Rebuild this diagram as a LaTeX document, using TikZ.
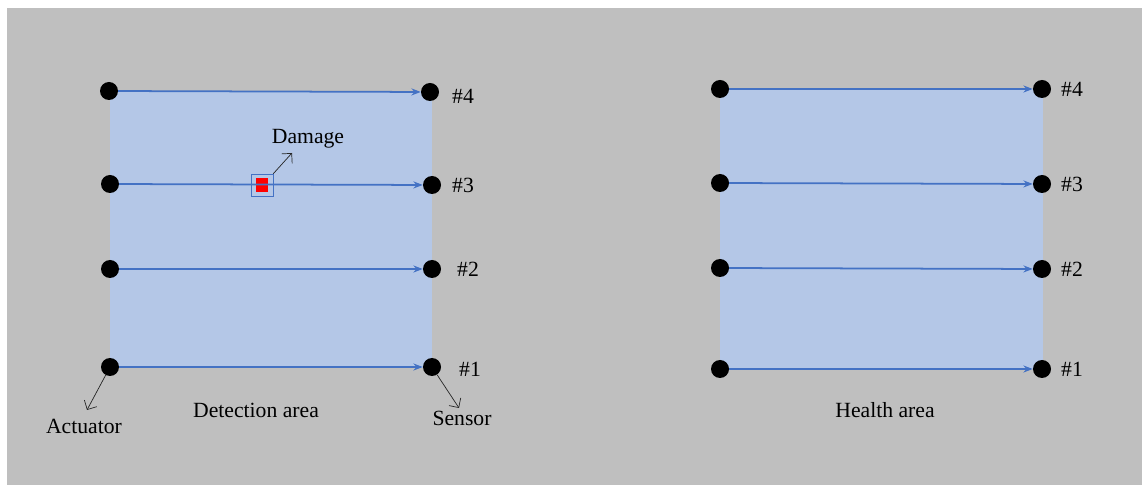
\documentclass[tikz,border=0pt]{standalone}
\usepackage{fontspec}
\setmainfont{Liberation Serif}
\usetikzlibrary{arrows.meta}
\definecolor{bggray}{HTML}{BFBFBF}
\definecolor{areablue}{HTML}{B4C7E7}
\definecolor{pathblue}{HTML}{4472C4}
\begin{document}
\begin{tikzpicture}[x=0.03cm,y=-0.03cm,
        font=\fontsize{18.5}{22}\selectfont]
            \useasboundingbox (0,0) rectangle (1142,487);
            \fill[white] (0,0) rectangle (1142,487);
            \fill[bggray] (7,8) rectangle (1142,485);

            % areas
            \fill[areablue] (110,91) rectangle (432,368);
            \fill[areablue] (720,89) rectangle (1043,369);

            \begin{scope}[every node/.style={circle, fill=black, inner sep=0pt, minimum size=0.54cm}]

                \node (a4) at (109,91) {};
                \node (s4) at (430,92) {};
                \node (a3) at (110,184) {};
                \node (s3) at (432,185) {};
                \node (a2) at (110,269) {};
                \node (s2) at (432,269) {};
                \node (a1) at (110,367) {};
                \node (s1) at (432,367) {};

                \node (b4) at (720,89) {};
                \node (t4) at (1042,89) {};
                \node (b3) at (720,183) {};
                \node (t3) at (1042,184) {};
                \node (b2) at (720,268) {};
                \node (t2) at (1042,269) {};
                \node (b1) at (720,369) {};
                \node (t1) at (1042,369) {};

            \end{scope}

            % damage
            \node[draw=pathblue, thin, minimum size=0.66cm, inner sep=0pt] (box) at (262,185) {};
            \fill[red] (256,178) rectangle (268,192);

            \begin{scope}[every edge/.style={draw=pathblue, line width=1.5pt, -{Stealth[length=8pt,width=6pt]}}]
                \path (a4) edge (s4);
                \path (a3) edge (s3);
                \path (a2) edge (s2);
                \path (a1) edge (s1);
                \path (b4) edge (t4);
                \path (b3) edge (t3);
                \path (b2) edge (t2);
                \path (b1) edge (t1);
            \end{scope}

            % labels
            \node (l4) at (463,96) {\#4};
            \node (l3) at (463,185) {\#3};
            \node (l2) at (468,269) {\#2};
            \node (l1) at (470,369) {\#1};
            \node (r4) at (1072,89) {\#4};
            \node (r3) at (1072,184) {\#3};
            \node (r2) at (1072,269) {\#2};
            \node (r1) at (1072,369) {\#1};

            \node (dmg) at (308,139) {Damage};
            \node (act) at (84,426) {Actuator};
            \node (sen) at (462,418) {Sensor};
            \node (det) at (256,410) {Detection area};
            \node (hea) at (885,410) {Health area};

            \draw[-{Straight Barb[length=6pt]}, black!85, semithick] (box.north east) -- (292,153);
            \draw[-{Straight Barb[length=6pt]}, black!85, semithick] (a1) -- (87,410);
            \draw[-{Straight Barb[length=6pt]}, black!85, semithick] (s1) -- (459,408);

        \end{tikzpicture}
\end{document}
